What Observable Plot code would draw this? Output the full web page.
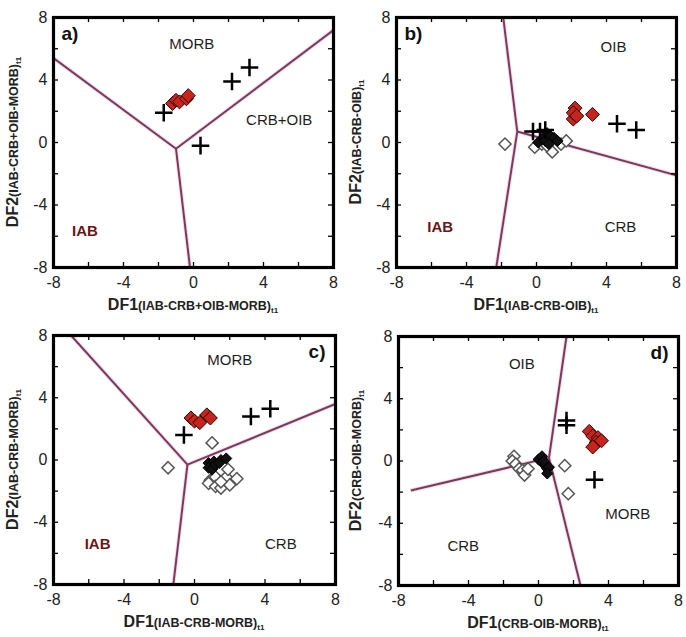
<!DOCTYPE html>
<html><head><meta charset="utf-8">
<script src="https://cdn.jsdelivr.net/npm/d3@7"></script>
<script src="https://cdn.jsdelivr.net/npm/@observablehq/plot@0.6"></script>
<style>
body{margin:0;background:#fff}
#wrap{position:relative;width:686px;height:637px;font-family:"Liberation Sans",Arial,sans-serif}
.panel{position:absolute}
</style>
</head><body><div id="wrap"></div>
<script>
// ---- shared axis ticks ----
const tickLabels = [-8, -4, 0, 4, 8];
const tickMarks = [-6, -4, -2, 0, 2, 4, 6];

// ---- panel a ----
const aJunction = [-1.0, -0.4];
const aEnds = [[-8, 5.4], [8, 7.2], [-0.2, -8]];
const aCross = [[-1.7, 1.9], [2.2, 3.9], [3.2, 4.8], [0.4, -0.2]];
const aRed = [[-1.2, 2.5], [-1.0, 2.7], [-0.8, 2.6], [-0.4, 2.8], [-0.3, 3.0]];
const aOpen = [];
const aBlack = [];
const aRegions = ["MORB", "CRB+OIB", "IAB"];
const aRegionX = [-0.1, 4.9, -6.2];
const aRegionY = [6.3, 1.4, -5.7];
const aXTitle = ["DF1", "(IAB-CRB+OIB-MORB)", "t1"];
const aYTitle = ["DF2", "(IAB-CRB+OIB-MORB)", "t1"];

// ---- panel b ----
const bJunction = [-1.1, 0.7];
const bEnds = [[-1.9, 8], [-2.3, -8], [8, -2.1]];
const bCross = [[4.6, 1.2], [5.7, 0.8], [-0.2, 0.7], [0.2, 0.7], [0.5, 0.8]];
const bRed = [[2.1, 1.5], [2.2, 2.2], [2.1, 1.9], [2.3, 1.7], [3.2, 1.8]];
const bOpen = [[-1.8, -0.1], [-0.1, -0.3], [0.3, -0.1], [0.9, -0.6], [1.4, -0.1], [1.7, 0.1], [0.6, -0.2]];
const bBlack = [[0.6, 0.6], [0.8, 0.4], [1.0, 0.3], [1.2, 0.1], [0.3, 0.2], [0.1, 0.0], [0.5, 0.1], [0.7, -0.1]];
const bRegions = ["OIB", "CRB", "IAB"];
const bRegionX = [4.4, 4.8, -5.5];
const bRegionY = [6.1, -5.4, -5.4];
const bXTitle = ["DF1", "(IAB-CRB-OIB)", "t1"];
const bYTitle = ["DF2", "(IAB-CRB-OIB)", "t1"];

// ---- panel c ----
const cJunction = [-0.4, -0.3];
const cEnds = [[-7.0, 8], [8, 3.6], [-1.2, -8]];
const cCross = [[-0.6, 1.6], [3.2, 2.8], [4.3, 3.3]];
const cRed = [[-0.2, 2.7], [0.0, 2.5], [0.3, 2.4], [0.7, 2.9], [0.9, 2.7]];
const cOpen = [[-1.5, -0.5], [1.0, 1.1], [0.9, -1.3], [0.8, -1.5], [1.2, -1.1], [1.2, -1.7], [1.5, -1.8], [1.8, -1.1], [1.9, -0.6], [2.0, -1.6], [2.4, -1.2], [1.5, -1.4]];
const cBlack = [[0.8, -0.2], [0.8, -0.5], [1.0, -0.6], [1.1, -0.1], [1.2, -0.3], [1.5, 0.0], [1.8, 0.1], [1.4, -0.2]];
const cRegions = ["MORB", "CRB", "IAB"];
const cRegionX = [2.0, 4.9, -5.5];
const cRegionY = [6.4, -5.4, -5.4];
const cXTitle = ["DF1", "(IAB-CRB-MORB)", "t1"];
const cYTitle = ["DF2", "(IAB-CRB-MORB)", "t1"];

// ---- panel d ----
const dJunction = [0.6, 0.2];
const dEnds = [[1.6, 8], [-7.3, -1.9], [2.4, -8]];
const dCross = [[1.6, 2.6], [1.6, 2.3], [3.2, -1.2]];
const dRed = [[2.9, 1.9], [3.1, 1.6], [3.4, 1.5], [3.3, 1.2], [3.1, 0.9], [3.6, 1.3]];
const dOpen = [[-1.4, 0.3], [-1.5, 0.0], [-1.3, -0.2], [-1.1, -0.5], [-0.9, -0.6], [-0.8, -0.9], [-0.6, -0.5], [1.5, -0.3], [1.7, -2.1]];
const dBlack = [[0.0, 0.1], [0.2, 0.3], [0.2, -0.1], [0.4, -0.2], [0.5, -0.5], [0.6, -0.4], [0.5, -0.8], [0.3, 0.0]];
const dRegions = ["OIB", "MORB", "CRB"];
const dRegionX = [-0.95, 5.1, -4.3];
const dRegionY = [6.2, -3.4, -5.5];
const dXTitle = ["DF1", "(CRB-OIB-MORB)", "t1"];
const dYTitle = ["DF2", "(CRB-OIB-MORB)", "t1"];

const panels = [
  {tag: "a)", left: 0, top: 0, ml: 53, mr: 10, mt: 17, mb: 51, tagSide: "left",
   junction: aJunction, ends: aEnds, cross: aCross, red: aRed, open: aOpen, black: aBlack,
   regions: aRegions, rx: aRegionX, ry: aRegionY, xt: aXTitle, yt: aYTitle},
  {tag: "b)", left: 343, top: 0, ml: 53, mr: 10, mt: 17, mb: 51, tagSide: "left",
   junction: bJunction, ends: bEnds, cross: bCross, red: bRed, open: bOpen, black: bBlack,
   regions: bRegions, rx: bRegionX, ry: bRegionY, xt: bXTitle, yt: bYTitle},
  {tag: "c)", left: 0, top: 318, ml: 53, mr: 8, mt: 17, mb: 52, tagSide: "right",
   junction: cJunction, ends: cEnds, cross: cCross, red: cRed, open: cOpen, black: cBlack,
   regions: cRegions, rx: cRegionX, ry: cRegionY, xt: cXTitle, yt: cYTitle},
  {tag: "d)", left: 343, top: 318, ml: 55, mr: 8, mt: 18, mb: 51, tagSide: "right",
   junction: dJunction, ends: dEnds, cross: dCross, red: dRed, open: dOpen, black: dBlack,
   regions: dRegions, rx: dRegionX, ry: dRegionY, xt: dXTitle, yt: dYTitle}
];

const W = 343, H = 318;
const lineColor = "#7a3a5e";
const haloColor = "#f6dde6";
const wrap = document.getElementById("wrap");

for (const p of panels) {
  const innerW = W - p.ml - p.mr;
  const innerH = H - p.mt - p.mb;
  const tk = 5;
  const regionIdx = p.regions.map((_, i) => i);
  const iabIdx = regionIdx.filter(i => p.regions[i] === "IAB");
  const otherIdx = regionIdx.filter(i => p.regions[i] !== "IAB");
  const chart = Plot.plot({
    width: W, height: H,
    marginLeft: p.ml, marginRight: p.mr, marginTop: p.mt, marginBottom: p.mb,
    style: {fontFamily: '"Liberation Sans", Arial, sans-serif', background: "white", overflow: "visible"},
    x: {domain: [-8, 8]},
    y: {domain: [-8, 8]},
    marks: [
      // boundary lines (halo + line)
      Plot.link(p.ends, {x1: () => p.junction[0], y1: () => p.junction[1], x2: d => d[0], y2: d => d[1], stroke: haloColor, strokeWidth: 4, clip: true}),
      Plot.link(p.ends, {x1: () => p.junction[0], y1: () => p.junction[1], x2: d => d[0], y2: d => d[1], stroke: lineColor, strokeWidth: 2, clip: true}),
      // inward ticks on all sides
      Plot.ruleX(tickMarks, {x: d => d, insetTop: innerH - tk, stroke: "black", strokeWidth: 1.3}),
      Plot.ruleX(tickMarks, {x: d => d, insetBottom: innerH - tk, stroke: "black", strokeWidth: 1.3}),
      Plot.ruleY(tickMarks, {y: d => d, insetRight: innerW - tk, stroke: "black", strokeWidth: 1.3}),
      Plot.ruleY(tickMarks, {y: d => d, insetLeft: innerW - tk, stroke: "black", strokeWidth: 1.3}),
      // tick labels (plain hyphen minus, as in the original)
      Plot.axisX({ticks: tickLabels, tickFormat: d => String(d), tickSize: 0, tickPadding: 9, fontSize: 16, label: null, fill: "#222"}),
      Plot.axisY({ticks: tickLabels, tickFormat: d => String(d), tickSize: 0, tickPadding: 6, fontSize: 16, label: null, fill: "#222"}),
      // region labels
      Plot.text(otherIdx, {
        x: i => p.rx[i], y: i => p.ry[i], text: i => p.regions[i],
        fontSize: 15, fill: "#1e1e1e"
      }),
      Plot.text(iabIdx, {
        x: i => p.rx[i], y: i => p.ry[i], text: i => p.regions[i],
        fontSize: 15, fontWeight: "bold", fill: "#6a1616"
      }),
      // data points
      Plot.dot(p.open, {x: d => d[0], y: d => d[1], symbol: "diamond2", r: 5.5, fill: "white", stroke: "#555", strokeWidth: 1.5}),
      Plot.dot(p.black, {x: d => d[0], y: d => d[1], symbol: "diamond2", r: 5, fill: "#111", stroke: "#000", strokeWidth: 1}),
      Plot.dot(p.red, {x: d => d[0], y: d => d[1], symbol: "diamond2", r: 6.3, fill: "#c8241e", stroke: "#2a0505", strokeWidth: 1}),
      Plot.dot(p.cross, {x: d => d[0], y: d => d[1], symbol: "plus", r: 5.7, fill: "none", stroke: "black", strokeWidth: 2.5}),
      // panel tag
      Plot.text([p.tag], {
        frameAnchor: p.tagSide === "left" ? "top-left" : "top-right",
        dx: p.tagSide === "left" ? 8 : -10, dy: 16,
        textAnchor: p.tagSide === "left" ? "start" : "end",
        lineAnchor: "middle", fontSize: 19, fontWeight: "bold", fill: "#111"
      }),
      Plot.frame({stroke: "black", strokeWidth: 3.2})
    ]
  });
  const div = document.createElement("div");
  div.className = "panel";
  div.style.left = p.left + "px";
  div.style.top = p.top + "px";
  div.appendChild(chart);
  wrap.appendChild(div);

  const svg = d3.select(chart);
  const fam = '"Liberation Sans", Arial, sans-serif';
  // x-axis title
  const xt = svg.append("text")
    .attr("x", p.ml + innerW / 2).attr("y", p.mt + innerH + 43)
    .attr("text-anchor", "middle").attr("font-family", fam)
    .attr("font-weight", "bold").attr("fill", "#222");
  xt.append("tspan").attr("font-size", 16).text(p.xt[0]);
  xt.append("tspan").attr("font-size", 12.5).text(p.xt[1]);
  xt.append("tspan").attr("font-size", 8).attr("dy", 3).text(p.xt[2]);
  // y-axis title
  const yt = svg.append("text")
    .attr("transform", `translate(${18},${p.mt + innerH / 2}) rotate(-90)`)
    .attr("text-anchor", "middle").attr("font-family", fam)
    .attr("font-weight", "bold").attr("fill", "#222");
  yt.append("tspan").attr("font-size", 16).text(p.yt[0]);
  yt.append("tspan").attr("font-size", 12.5).text(p.yt[1]);
  yt.append("tspan").attr("font-size", 8).attr("dy", 3).text(p.yt[2]);
}
</script>
</body></html>
